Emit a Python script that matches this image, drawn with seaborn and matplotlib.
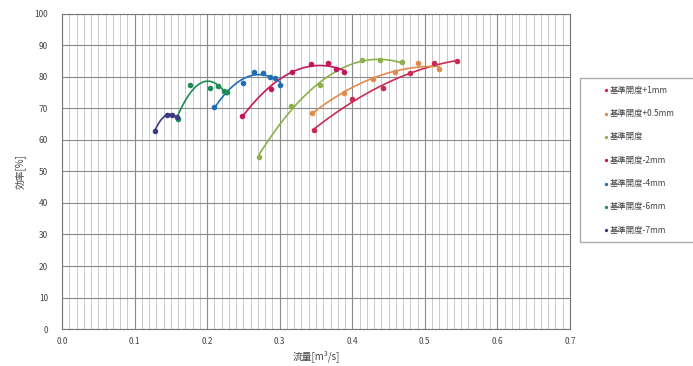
import matplotlib
matplotlib.use("Agg")
import pandas as pd
import seaborn as sns
import matplotlib.pyplot as plt
from matplotlib.ticker import MultipleLocator

# Data (flow m3/s, efficiency %)
flow_p1 = [0.347, 0.400, 0.442, 0.480, 0.513, 0.544]
eff_p1 = [63.2, 72.9, 76.4, 81.2, 84.3, 84.9]

flow_p05 = [0.345, 0.389, 0.429, 0.459, 0.490, 0.519]
eff_p05 = [68.7, 75.0, 79.2, 81.7, 84.5, 82.5]

flow_base = [0.271, 0.316, 0.356, 0.414, 0.438, 0.468]
eff_base = [54.7, 70.8, 77.3, 85.4, 85.3, 84.6]

flow_m2 = [0.248, 0.288, 0.317, 0.343, 0.366, 0.377, 0.389]
eff_m2 = [67.7, 76.1, 81.5, 84.1, 84.3, 82.5, 81.6]

flow_m4 = [0.210, 0.250, 0.265, 0.277, 0.286, 0.294, 0.301]
eff_m4 = [70.4, 78.0, 81.5, 81.2, 80.1, 79.8, 77.5]

flow_m6 = [0.160, 0.176, 0.204, 0.215, 0.223, 0.227]
eff_m6 = [66.6, 77.5, 76.5, 77.1, 75.6, 75.2]

flow_m7 = [0.128, 0.144, 0.152, 0.158]
eff_m7 = [63.0, 68.0, 67.9, 67.2]

labels = ["基準開度+1mm", "基準開度+0.5mm", "基準開度", "基準開度-2mm",
          "基準開度-4mm", "基準開度-6mm", "基準開度-7mm"]
colors = ["#cc2a52", "#e08a4c", "#8db04a", "#c4165a",
          "#1f6db3", "#1c8c55", "#3d3a85"]

series = [(flow_p1, eff_p1), (flow_p05, eff_p05), (flow_base, eff_base),
          (flow_m2, eff_m2), (flow_m4, eff_m4), (flow_m6, eff_m6),
          (flow_m7, eff_m7)]

sns.set_style("white")
plt.rcParams['font.family'] = ['Noto Sans CJK JP', 'DejaVu Sans']

fig = plt.figure(figsize=(6.93, 3.66), dpi=100)
ax = fig.add_axes([0.0895, 0.101, 0.733, 0.861])

for (x, y), lab, col in zip(series, labels, colors):
    df = pd.DataFrame({"flow": x, "eff": y})
    sns.regplot(data=df, x="flow", y="eff", order=2, ci=None, ax=ax,
                color=col, label=lab,
                scatter_kws={"s": 16, "alpha": 1, "zorder": 4, "linewidths": 0},
                line_kws={"lw": 1.2, "zorder": 3})

ax.set_xlim(0, 0.7)
ax.set_ylim(0, 100)
ax.xaxis.set_major_locator(MultipleLocator(0.1))
ax.xaxis.set_minor_locator(MultipleLocator(0.01))
ax.yaxis.set_major_locator(MultipleLocator(10))
ax.grid(which="minor", axis="x", color="#c0c0c0", lw=0.6)
ax.grid(which="major", axis="x", color="#8c8c8c", lw=0.8)
ax.grid(which="major", axis="y", color="#8a8a8a", lw=0.8)
ax.set_axisbelow(True)
for sp in ax.spines.values():
    sp.set_color("#777777")
    sp.set_linewidth(0.8)

ax.set_xticks([i / 10 for i in range(8)])
ax.set_xticklabels([f"{i / 10:.1f}" for i in range(8)])
ax.tick_params(axis="both", which="both", length=0, labelsize=6, colors="#444444")
ax.tick_params(axis="x", pad=6)
ax.tick_params(axis="y", pad=10)

ax.set_xlabel("流量[m³/s]", fontsize=7, color="#444444", labelpad=3)
ax.set_ylabel("効率[%]", fontsize=7, color="#444444", labelpad=6)

leg = ax.legend(loc="upper left", bbox_to_anchor=(0.837, 0.687, 0.17, 0.1),
                bbox_transform=fig.transFigure, mode="expand", fontsize=6,
                frameon=True, fancybox=False, edgecolor="#999999",
                labelspacing=1.72, handletextpad=-1.8, handlelength=4.4,
                borderpad=0.9, markerscale=0.6, borderaxespad=0)
for t in leg.get_texts():
    t.set_color("#444444")
for h in leg.legend_handles:
    h.set_alpha(1)

fig.savefig("out.png", dpi=100)
